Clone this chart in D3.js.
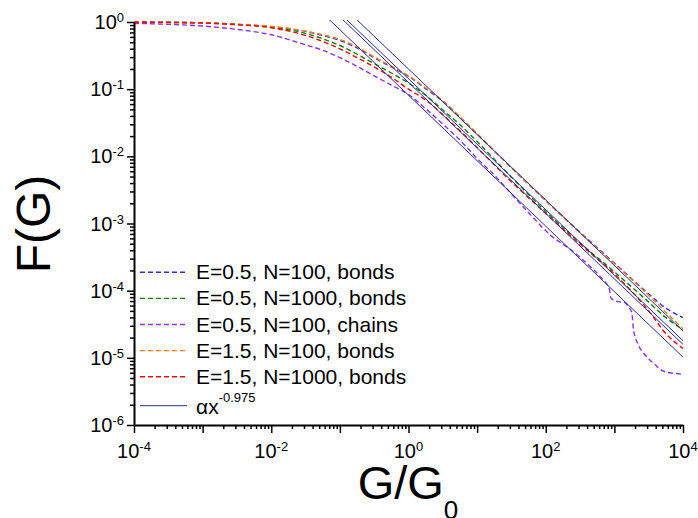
<!DOCTYPE html>
<html><head><meta charset="utf-8">
<script src="https://cdn.jsdelivr.net/npm/d3@7"></script>
<style>body{margin:0;background:#fff}svg{display:block;font-family:"Liberation Sans",Arial,sans-serif;background:#fff}</style>
</head><body><svg id="c" width="698" height="518"></svg>
<script>
// ---- data ----
const G = [1e-4, 3.162e-4, 1e-3, 3.162e-3, 1e-2, 3.162e-2, 5.623e-2, 0.1, 0.1778, 0.3162, 0.5623, 1, 1.778, 3.162, 5.623, 10, 31.62, 100, 316.2, 1000, 3162, 5623, 1e4];
const F_E05_N100_bonds  = [0.995, 0.989, 0.973, 0.918, 0.851, 0.724, 0.631, 0.531, 0.412, 0.295, 0.214, 0.155, 0.102, 0.0661, 0.0380, 0.0214, 0.00676, 0.00219, 7.41e-4, 2.57e-4, 8.91e-5, 5.50e-5, 3.98e-5];
const F_E05_N1000_bonds = [0.993, 0.986, 0.971, 0.923, 0.841, 0.676, 0.562, 0.447, 0.331, 0.240, 0.174, 0.123, 0.0813, 0.0490, 0.0295, 0.0166, 0.00490, 0.00151, 5.13e-4, 1.91e-4, 6.76e-5, 3.98e-5, 2.63e-5];
const F_E15_N100_bonds  = [0.995, 0.989, 0.973, 0.923, 0.861, 0.733, 0.646, 0.550, 0.427, 0.302, 0.219, 0.158, 0.105, 0.0676, 0.0389, 0.0219, 0.00676, 0.00219, 7.24e-4, 2.51e-4, 8.51e-5, 4.79e-5, 2.69e-5];
const F_E15_N1000_bonds = [0.993, 0.984, 0.966, 0.912, 0.822, 0.631, 0.513, 0.398, 0.295, 0.214, 0.151, 0.100, 0.0692, 0.0417, 0.0240, 0.0135, 0.00417, 0.00141, 4.90e-4, 1.78e-4, 5.01e-5, 2.29e-5, 1.38e-5];
const G_chains = [1e-4, 3.162e-4, 1e-3, 3.162e-3, 1e-2, 3.162e-2, 5.623e-2, 0.1, 0.1778, 0.3162, 0.5623, 1, 1.778, 3.162, 5.623, 10, 17.78, 31.62, 56.23, 116, 253.5, 443.6, 621, 851, 891, 1086, 1435, 1607, 1799, 1897, 2244, 2812, 3715, 5200, 7261, 1e4];
const F_E05_N100_chains = [0.955, 0.923, 0.871, 0.776, 0.646, 0.457, 0.380, 0.295, 0.219, 0.158, 0.115, 0.0832, 0.0513, 0.0302, 0.0174, 0.00933, 0.00525, 0.00275, 0.00145, 6.76e-4, 3.80e-4, 2.29e-4, 1.62e-4, 1.02e-4, 7.76e-5, 6.92e-5, 6.61e-5, 5.75e-5, 4.68e-5, 2.63e-5, 1.55e-5, 1.10e-5, 8.32e-6, 6.31e-6, 5.89e-6, 5.75e-6];
const fitPrefactors = [0.1995, 0.143, 0.126, 0.0813];
const fitExponent = -0.975;
const fitRange = [1e-2, 1e4];
const seriesNames = ["E=0.5, N=100, bonds", "E=0.5, N=1000, bonds", "E=0.5, N=100, chains", "E=1.5, N=100, bonds", "E=1.5, N=1000, bonds"];
const xTickExps = [-4, -2, 0, 2, 4];
const yTickExps = [0, -1, -2, -3, -4, -5, -6];

const seriesColors = ["#2a2aff", "#008000", "#9030f0", "#ff8000", "#ff0000"];
const fitColor = "#2a2a9a";

const seriesX = [G, G, G_chains, G, G];
const seriesY = [F_E05_N100_bonds, F_E05_N1000_bonds, F_E05_N100_chains, F_E15_N100_bonds, F_E15_N1000_bonds];

// ---- chart ----
const svg = d3.select("#c");
const x = d3.scaleLog().domain([1e-4, 1e4]).range([134, 683]);
const y = d3.scaleLog().domain([1e-6, 1]).range([425, 22]);

svg.append("defs").append("clipPath").attr("id", "clip")
  .append("rect").attr("x", 134).attr("y", 20).attr("width", 552).attr("height", 405);

const plot = svg.append("g").attr("clip-path", "url(#clip)");
const line = d3.line().x(d => x(d[0])).y(d => y(d[1])).curve(d3.curveMonotoneX);

seriesY.forEach((vals, i) => {
  const pts = vals.map((v, k) => [seriesX[i][k], v]);
  plot.append("path").datum(pts)
    .attr("d", line).attr("fill", "none")
    .attr("stroke", seriesColors[i]).attr("stroke-width", 1.4)
    .attr("stroke-dasharray", "5,3");
});

fitPrefactors.forEach(a => {
  const pts = fitRange.map(g => [g, a * Math.pow(g, fitExponent)]);
  plot.append("path").datum(pts)
    .attr("d", d3.line().x(d => x(d[0])).y(d => y(d[1])))
    .attr("fill", "none").attr("stroke", fitColor).attr("stroke-width", 1);
});

// axes
const minorX = [], minorY = [];
for (let e = -4; e < 4; e++) for (let m = 2; m <= 9; m++) minorX.push(m * Math.pow(10, e));
for (let e = -6; e < 0; e++) for (let m = 2; m <= 9; m++) minorY.push(m * Math.pow(10, e));
const decX = d3.range(-4, 5).map(e => Math.pow(10, e));
const decY = d3.range(-6, 1).map(e => Math.pow(10, e));

function styleAxis(g, w) {
  g.selectAll(".tick line").attr("stroke", "#000").attr("stroke-width", 1.5);
  g.select(".domain").attr("stroke", "#000").attr("stroke-width", w);
}
const gxm = svg.append("g").attr("transform", "translate(0,425)")
  .call(d3.axisBottom(x).tickValues(minorX).tickSize(4).tickSizeOuter(0).tickFormat(""));
styleAxis(gxm, 0);
const gx = svg.append("g").attr("transform", "translate(0,425)")
  .call(d3.axisBottom(x).tickValues(decX).tickSize(8).tickSizeOuter(0).tickFormat(""));
styleAxis(gx, 2);
const gym = svg.append("g").attr("transform", "translate(134,0)")
  .call(d3.axisLeft(y).tickValues(minorY).tickSize(4).tickSizeOuter(0).tickFormat(""));
styleAxis(gym, 0);
const gy = svg.append("g").attr("transform", "translate(134,0)")
  .call(d3.axisLeft(y).tickValues(decY).tickSize(7).tickSizeOuter(0).tickFormat(""));
styleAxis(gy, 2);

// tick labels
xTickExps.forEach(e => {
  const t = svg.append("text").attr("x", x(Math.pow(10, e))).attr("y", 458)
    .attr("text-anchor", "middle").attr("font-size", 20).attr("fill", "#000");
  t.append("tspan").text("10");
  t.append("tspan").attr("font-size", 13).attr("dy", -7).text(String(e));
});
yTickExps.forEach(e => {
  const t = svg.append("text").attr("x", 124).attr("y", y(Math.pow(10, e)) + 7)
    .attr("text-anchor", "end").attr("font-size", 20).attr("fill", "#000");
  t.append("tspan").text("10");
  t.append("tspan").attr("font-size", 13).attr("dy", -7).text(String(e));
});

// axis titles
svg.append("text").attr("transform", "translate(50,224) rotate(-90)")
  .attr("text-anchor", "middle").attr("font-size", 48).text("F(G)");
const xt = svg.append("text").attr("x", 408).attr("y", 499)
  .attr("text-anchor", "middle").attr("font-size", 47);
xt.append("tspan").text("G/G");
xt.append("tspan").attr("font-size", 26).attr("dy", 20).text("0");

// legend
const leg = svg.append("g");
seriesNames.forEach((name, i) => {
  const ly = 272.3 + i * 26.1;
  leg.append("line").attr("x1", 140).attr("x2", 187).attr("y1", ly).attr("y2", ly)
    .attr("stroke", seriesColors[i]).attr("stroke-width", 1.4).attr("stroke-dasharray", "5,3");
  leg.append("text").attr("x", 196).attr("y", ly + 7).attr("font-size", 21).text(name);
});
{
  const ly = 405.7;
  leg.append("line").attr("x1", 140).attr("x2", 187).attr("y1", ly).attr("y2", ly)
    .attr("stroke", fitColor).attr("stroke-width", 1);
  const t = leg.append("text").attr("x", 196).attr("y", ly + 8).attr("font-size", 21);
  t.append("tspan").text("\u03b1x");
  t.append("tspan").attr("font-size", 13).attr("dy", -12).text(String(fitExponent));
}
</script>
</body></html>
